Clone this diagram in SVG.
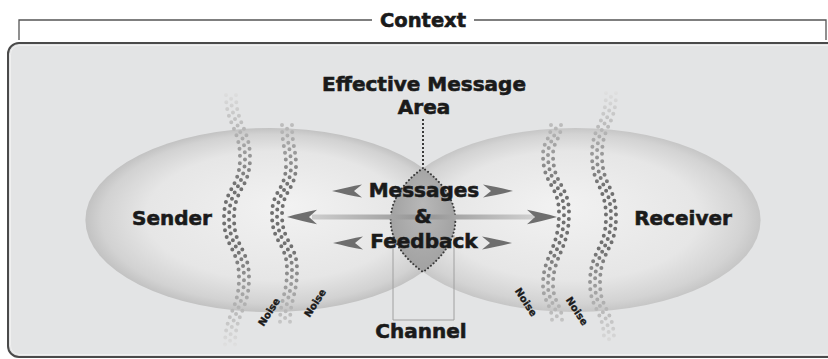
<svg xmlns="http://www.w3.org/2000/svg" xmlns:xlink="http://www.w3.org/1999/xlink" width="828" height="359" viewBox="0 0 828 359">
<style>
.t{font-family:"DejaVu Sans","Liberation Sans",sans-serif;font-weight:bold;fill:#1a1a1a;stroke:#1a1a1a;stroke-width:0.6;text-anchor:middle}
.big{font-size:20px}
.nz{font-size:10px;stroke-width:0.3}
.dot{fill:none;stroke-width:4;stroke-linecap:round;stroke-dasharray:0 7}
.ah{fill:#6e6e6e}
</style>
<defs>
<radialGradient id="egL" cx="0.5" cy="0.5" r="0.5" fx="0.55" fy="0.42">
<stop offset="0" stop-color="#f2f2f2"/>
<stop offset="0.7" stop-color="#e6e6e6"/>
<stop offset="0.92" stop-color="#d2d2d2"/>
<stop offset="1" stop-color="#c2c2c2"/>
</radialGradient>
<radialGradient id="egR" cx="0.5" cy="0.5" r="0.5" fx="0.45" fy="0.42">
<stop offset="0" stop-color="#f2f2f2"/>
<stop offset="0.7" stop-color="#e6e6e6"/>
<stop offset="0.92" stop-color="#d3d3d3"/>
<stop offset="1" stop-color="#c6c6c6"/>
</radialGradient>
<radialGradient id="lensG" cx="0.5" cy="0.5" r="0.6" fy="0.35">
<stop offset="0" stop-color="#b8b8b8"/>
<stop offset="1" stop-color="#9e9e9e"/>
</radialGradient>
<linearGradient id="shaft" x1="0" y1="0" x2="1" y2="0">
<stop offset="0" stop-color="#cdcdcd"/>
<stop offset="0.45" stop-color="#9a9a9a"/>
<stop offset="0.55" stop-color="#9a9a9a"/>
<stop offset="1" stop-color="#d0d0d0"/>
</linearGradient>
<linearGradient id="fade" gradientUnits="userSpaceOnUse" x1="0" y1="90" x2="0" y2="346">
<stop offset="0" stop-color="#e2e2e2"/>
<stop offset="0.15" stop-color="#b8b8b8"/>
<stop offset="0.38" stop-color="#707070"/>
<stop offset="0.62" stop-color="#707070"/>
<stop offset="0.86" stop-color="#b8b8b8"/>
<stop offset="1" stop-color="#e0e0e0"/>
</linearGradient>
<path id="w1" d="M231 95 C231 125 245 128 245 158 C245 188 229 188 229 218 C229 248 244 248 244 278 C244 310 230 313 230 345"/>
<path id="w2" d="M287 125 C287 145 291 150 291 165 C291 190 277 190 277 215 C277 243 292 243 292 270 C292 295 285 300 285 322"/>
<path id="w3" d="M556 125 C556 140 548 140 548 155 C548 185 564 185 564 213 C564 250 548 255 548 285 C548 302 557 305 557 320"/>
<path id="w4" d="M611 93 C611 125 597 125 597 155 C597 186 611 186 611 217 C611 250 595 250 595 283 C595 310 609 310 609 340"/>
<path id="ahL" d="M0 0 C10 -2.5 21 -5 30 -6.5 L22 0 L30 6.5 C21 5 10 2.5 0 0 Z"/>
</defs>

<g id="context">
<path d="M19 40 V20 H372 M474 20 H826 V40" fill="none" stroke="#555" stroke-width="1.3"/>
<text class="t" x="423" y="27" font-size="19.5">Context</text>
</g>

<g id="panel">
<rect x="8" y="43" width="835" height="314" rx="11" fill="#e3e4e5" stroke="#4a4a4a" stroke-width="2"/>
<rect x="10.5" y="45.5" width="830" height="309" rx="9" fill="none" stroke="#f0f0f0" stroke-width="1"/>
</g>

<g id="sender">
<ellipse cx="270.4" cy="220" rx="185" ry="92" fill="url(#egL)"/>
<text class="t big" x="172" y="225">Sender</text>
</g>

<g id="receiver">
<ellipse cx="575.6" cy="220" rx="185" ry="92" fill="url(#egR)"/>
<text class="t big" x="683" y="225">Receiver</text>
</g>

<g id="channel">
<path d="M393 235 V320 H454 V235" fill="none" stroke="#a0a0a0" stroke-width="1"/>
<text class="t big" x="421" y="338">Channel</text>
</g>

<g id="effective-message-area">
<path d="M423 168 A185 92 0 0 0 423 272 A185 92 0 0 0 423 168 Z" fill="url(#lensG)" stroke="#3a3a3a" stroke-width="2" stroke-linecap="round" stroke-dasharray="0.1 3.6"/>
<text class="t big" x="424" y="91">Effective Message</text>
<text class="t big" x="424" y="114">Area</text>
</g>

<g id="noise-1">
<use xlink:href="#w1" class="dot" stroke="url(#fade)" transform="translate(-5 0)"/>
<use xlink:href="#w1" class="dot" stroke="url(#fade)" stroke-dashoffset="3.5"/>
<use xlink:href="#w1" class="dot" stroke="url(#fade)" transform="translate(5 0)"/>
<text class="t nz" transform="translate(269 312) rotate(-57)" dy="3.5">Noise</text>
</g>
<g id="noise-2">
<use xlink:href="#w2" class="dot" stroke="url(#fade)" transform="translate(-5 0)"/>
<use xlink:href="#w2" class="dot" stroke="url(#fade)" stroke-dashoffset="3.5"/>
<use xlink:href="#w2" class="dot" stroke="url(#fade)" transform="translate(5 0)"/>
<text class="t nz" transform="translate(315 303) rotate(-57)" dy="3.5">Noise</text>
</g>
<g id="noise-3">
<use xlink:href="#w3" class="dot" stroke="url(#fade)" transform="translate(-5 0)"/>
<use xlink:href="#w3" class="dot" stroke="url(#fade)" stroke-dashoffset="3.5"/>
<use xlink:href="#w3" class="dot" stroke="url(#fade)" transform="translate(5 0)"/>
<text class="t nz" transform="translate(526 302) rotate(57)" dy="3.5">Noise</text>
</g>
<g id="noise-4">
<use xlink:href="#w4" class="dot" stroke="url(#fade)" transform="translate(-5 0)"/>
<use xlink:href="#w4" class="dot" stroke="url(#fade)" stroke-dashoffset="3.5"/>
<use xlink:href="#w4" class="dot" stroke="url(#fade)" transform="translate(5 0)"/>
<text class="t nz" transform="translate(577 311) rotate(57)" dy="3.5">Noise</text>
</g>

<g id="connectors">
<line x1="423" y1="119" x2="423" y2="167" stroke="#3a3a3a" stroke-width="2" stroke-dasharray="2 2"/>
<rect x="312" y="214.5" width="222" height="5" fill="url(#shaft)"/>
<use xlink:href="#ahL" class="ah" transform="translate(287 217) scale(1 1.1)"/>
<use xlink:href="#ahL" class="ah" transform="translate(557 217) scale(-1 1.1)"/>
<use xlink:href="#ahL" class="ah" transform="translate(332 191)"/>
<use xlink:href="#ahL" class="ah" transform="translate(513 191) scale(-1 1)"/>
<use xlink:href="#ahL" class="ah" transform="translate(333 243)"/>
<use xlink:href="#ahL" class="ah" transform="translate(512 243) scale(-1 1)"/>
</g>

<g id="messages">
<text class="t big" x="424" y="197">Messages</text>
<text class="t big" x="423" y="223">&amp;</text>
<text class="t big" x="424" y="248">Feedback</text>
</g>
</svg>
